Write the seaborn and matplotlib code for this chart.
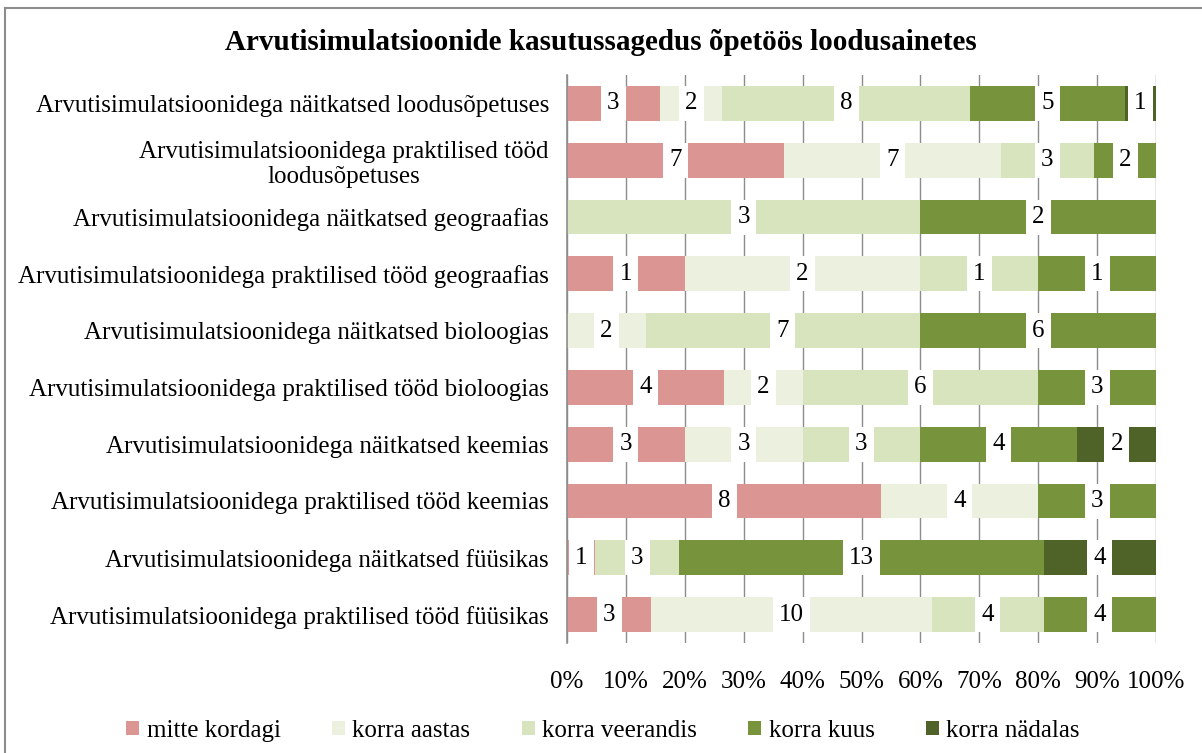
import numpy as np
import pandas as pd
import matplotlib.pyplot as plt
from matplotlib.patches import Patch
from matplotlib.lines import Line2D
from matplotlib.path import Path
import seaborn as sns

categories = [
    'Arvutisimulatsioonidega näitkatsed loodusõpetuses',
    'Arvutisimulatsioonidega praktilised tööd\nloodusõpetuses',
    'Arvutisimulatsioonidega näitkatsed geograafias',
    'Arvutisimulatsioonidega praktilised tööd geograafias',
    'Arvutisimulatsioonidega näitkatsed bioloogias',
    'Arvutisimulatsioonidega praktilised tööd bioloogias',
    'Arvutisimulatsioonidega näitkatsed keemias',
    'Arvutisimulatsioonidega praktilised tööd keemias',
    'Arvutisimulatsioonidega näitkatsed füüsikas',
    'Arvutisimulatsioonidega praktilised tööd füüsikas',
]
series = ['mitte kordagi', 'korra aastas', 'korra veerandis', 'korra kuus', 'korra nädalas']
mitte_kordagi = [3, 7, 0, 1, 0, 4, 3, 8, 1, 3]
korra_aastas = [2, 7, 0, 2, 2, 2, 3, 4, 0, 10]
korra_veerandis = [8, 3, 3, 1, 7, 6, 3, 0, 3, 4]
korra_kuus = [5, 2, 2, 1, 6, 3, 4, 3, 13, 4]
korra_nadalas = [1, 0, 0, 0, 0, 0, 2, 0, 4, 0]
colors = ['#DB9694', '#EBF1DE', '#D7E4BD', '#77933C', '#4F6228']
xticks = np.arange(0, 101, 10)

counts = np.array([mitte_kordagi, korra_aastas, korra_veerandis, korra_kuus, korra_nadalas], dtype=float).T
pct = counts / counts.sum(axis=1, keepdims=True) * 100
cum = pct.cumsum(axis=1)

plt.rcParams['font.family'] = ['Liberation Serif', 'DejaVu Serif']


def label_box(x0, y0, width, height, mutation_size):
    # white box: a little wider than the number, as tall as the bar
    px = 0.25 * mutation_size
    hy = 0.7 * mutation_size
    cy = y0 + height / 2
    xa, xb = x0 - px, x0 + width + px
    return Path([(xa, cy - hy), (xb, cy - hy), (xb, cy + hy), (xa, cy + hy), (xa, cy - hy)],
                closed=True)


fig = plt.figure(figsize=(12.02, 7.53), dpi=100)
ax = fig.add_axes([567 / 1202, 1 - 643 / 753, 589 / 1202, (643 - 75) / 753])

# stacked bars: draw cumulative totals from the right-most series back
for j in range(len(series) - 1, -1, -1):
    df = pd.DataFrame({'cat': categories, 'val': cum[:, j]})
    sns.barplot(data=df, x='val', y='cat', color=colors[j], orient='h',
                width=0.61, saturation=1, ax=ax, zorder=2)

for i in range(len(categories)):
    for j in range(len(series)):
        if counts[i, j] > 0:
            mid = cum[i, j] - pct[i, j] / 2
            ax.text(mid, i, '%d' % counts[i, j], ha='center', va='center',
                    fontsize=18, color='black', zorder=4,
                    bbox=dict(facecolor='white', edgecolor='none', boxstyle=label_box))

ax.set_xlim(0, 100)
ax.set_ylim(len(categories) - 0.5, -0.5)
ax.set_xticks(xticks)
ax.set_xticklabels(['%d%%' % t for t in xticks], fontsize=18)
ax.tick_params(axis='x', length=0, pad=20)
ax.tick_params(axis='y', length=0, pad=13, labelsize=18)
ax.get_yticklabels()[1].set_multialignment('center')
ax.set_xlabel('')
ax.set_ylabel('')
ax.grid(axis='x', color='#8C8C8C', linewidth=1, zorder=0)
ax.set_axisbelow(True)
for s in ['top', 'right', 'bottom']:
    ax.spines[s].set_visible(False)
ax.spines['left'].set_color('#8C8C8C')
ax.spines['left'].set_linewidth(1.2)

fig.suptitle('Arvutisimulatsioonide kasutussagedus õpetöös loodusainetes',
             x=0.5, y=1 - 42 / 753, va='center', fontsize=21, fontweight='bold')

handles = [Patch(facecolor=c, edgecolor='none') for c in colors]
fig.legend(handles, series, loc='center', bbox_to_anchor=(603 / 1202, 1 - 731 / 753), ncol=5,
           frameon=False, fontsize=18, handlelength=0.52, handleheight=0.52,
           handletextpad=0.3, columnspacing=2.05)

# outer chart border (top and left edges visible)
fig.add_artist(Line2D([5 / 1202, 1], [1 - 8 / 753, 1 - 8 / 753], color='#8C8C8C', lw=1.5))
fig.add_artist(Line2D([5 / 1202, 5 / 1202], [0, 1 - 8 / 753], color='#8C8C8C', lw=1.5))

fig.savefig('out.png', dpi=100, facecolor='white')
